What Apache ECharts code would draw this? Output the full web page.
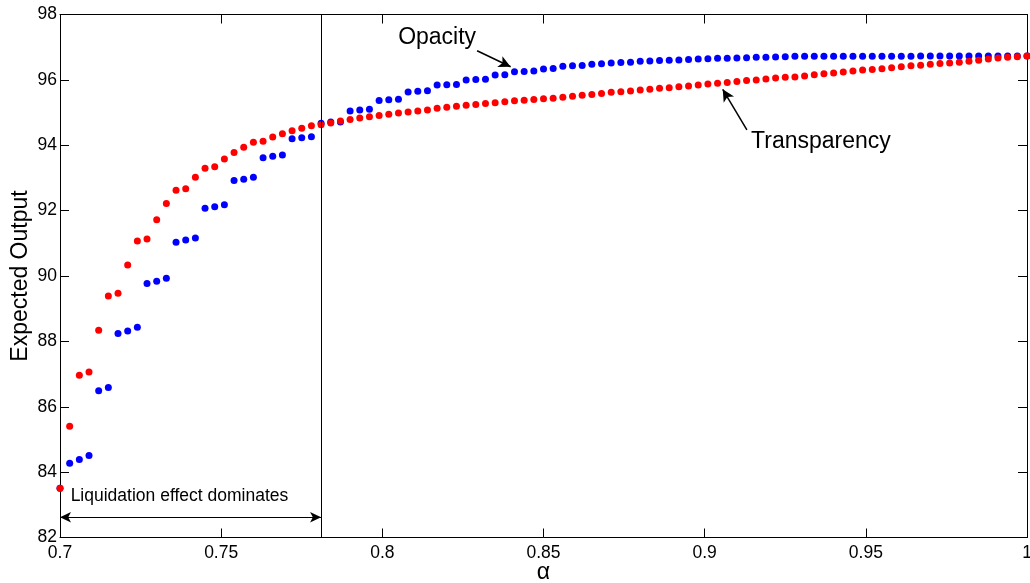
<!DOCTYPE html>
<html>
<head>
<meta charset="utf-8">
<script src="https://cdn.jsdelivr.net/npm/echarts@6/dist/echarts.min.js"></script>
<style>
  html, body { margin: 0; padding: 0; background: #fff; }
  #chart { width: 1030px; height: 583px; }
</style>
</head>
<body>
<div id="chart"></div>
<script>
// alpha grid (x values)
const alpha = [
  0.700, 0.703, 0.706, 0.709, 0.712, 0.715, 0.718, 0.721, 0.724, 0.727,
  0.730, 0.733, 0.736, 0.739, 0.742, 0.745, 0.748, 0.751, 0.754, 0.757,
  0.760, 0.763, 0.766, 0.769, 0.772, 0.775, 0.778, 0.781, 0.784, 0.787,
  0.790, 0.793, 0.796, 0.799, 0.802, 0.805, 0.808, 0.811, 0.814, 0.817,
  0.820, 0.823, 0.826, 0.829, 0.832, 0.835, 0.838, 0.841, 0.844, 0.847,
  0.850, 0.853, 0.856, 0.859, 0.862, 0.865, 0.868, 0.871, 0.874, 0.877,
  0.880, 0.883, 0.886, 0.889, 0.892, 0.895, 0.898, 0.901, 0.904, 0.907,
  0.910, 0.913, 0.916, 0.919, 0.922, 0.925, 0.928, 0.931, 0.934, 0.937,
  0.940, 0.943, 0.946, 0.949, 0.952, 0.955, 0.958, 0.961, 0.964, 0.967,
  0.970, 0.973, 0.976, 0.979, 0.982, 0.985, 0.988, 0.991, 0.994, 0.997,
  1.000
];

// Opacity (blue)
const opacity = [
  83.51, 84.27, 84.39, 84.51, 86.49, 86.59, 88.24, 88.32, 88.43, 89.77,
  89.84, 89.93, 91.03, 91.10, 91.16, 92.07, 92.12, 92.18, 92.92, 92.96,
  93.02, 93.62, 93.66, 93.70, 94.20, 94.23, 94.26, 94.67, 94.71, 94.71,
  95.05, 95.08, 95.10, 95.37, 95.39, 95.41, 95.63, 95.65, 95.67, 95.84,
  95.85, 95.86, 96.00, 96.01, 96.02, 96.15, 96.16, 96.25, 96.26, 96.27,
  96.33, 96.35, 96.42, 96.43, 96.44, 96.48, 96.49, 96.52, 96.53, 96.54,
  96.57, 96.58, 96.59, 96.60, 96.61, 96.62, 96.64, 96.65, 96.66, 96.66,
  96.67, 96.68, 96.69, 96.69, 96.70, 96.71, 96.72, 96.72, 96.72, 96.72,
  96.72, 96.72, 96.72, 96.72, 96.72, 96.72, 96.72, 96.72, 96.72, 96.73,
  96.73, 96.73, 96.73, 96.73, 96.73, 96.73, 96.73, 96.73, 96.73, 96.73,
  96.73
];

// Transparency (red)
const transparency = [
  83.51, 85.40, 86.96, 87.06, 88.34, 89.39, 89.47, 90.34, 91.07, 91.13,
  91.72, 92.22, 92.62, 92.67, 93.02, 93.30, 93.34, 93.58, 93.78, 93.94,
  94.09, 94.12, 94.25, 94.35, 94.44, 94.52, 94.60, 94.63, 94.68, 94.74,
  94.79, 94.83, 94.87, 94.91, 94.95, 94.99, 95.02, 95.05, 95.08, 95.13,
  95.16, 95.19, 95.22, 95.25, 95.28, 95.30, 95.33, 95.36, 95.38, 95.40,
  95.42, 95.44, 95.47, 95.50, 95.53, 95.55, 95.58, 95.62, 95.64, 95.66,
  95.69, 95.71, 95.74, 95.76, 95.79, 95.81, 95.84, 95.87, 95.90, 95.92,
  95.95, 95.98, 96.00, 96.03, 96.06, 96.08, 96.09, 96.12, 96.16, 96.19,
  96.21, 96.24, 96.27, 96.30, 96.32, 96.34, 96.37, 96.40, 96.43, 96.45,
  96.48, 96.50, 96.52, 96.54, 96.57, 96.60, 96.64, 96.67, 96.69, 96.71,
  96.73
];

const xTicks = { min: 0.7, max: 1, interval: 0.05 };
const yTicks = { min: 82, max: 98, interval: 2 };
const liquidationBound = 0.781;

const font = "'Liberation Sans', Arial, sans-serif";

function pairs(ys) {
  return alpha.map((x, i) => [x, ys[i]]);
}

const chart = echarts.init(document.getElementById("chart"));

const axisCommon = {
  type: "value",
  axisLine: { show: true, onZero: false, lineStyle: { color: "#000", width: 1 } },
  axisTick: { show: true, inside: true, length: 9, lineStyle: { color: "#000" } },
  splitLine: { show: false },
};

const option = {
  animation: false,
  backgroundColor: "#fff",
  grid: { left: 60, right: 3, top: 14.5, bottom: 45.5, containLabel: false, outerBoundsMode: "none" },
  xAxis: [
    {
      ...axisCommon,
      ...xTicks,
      position: "bottom",
      name: "α",
      nameLocation: "middle",
      nameGap: 24,
      nameMoveOverlap: false,
      nameTextStyle: { fontFamily: font, fontSize: 23, color: "#000" },
      axisLabel: { fontFamily: font, fontSize: 17.5, color: "#000", margin: 7,
        showMinLabel: true, showMaxLabel: true },
    },
    {
      ...axisCommon,
      ...xTicks,
      position: "top",
      axisLabel: { show: false },
    },
  ],
  yAxis: [
    {
      ...axisCommon,
      ...yTicks,
      position: "left",
      name: "Expected Output",
      nameLocation: "middle",
      nameGap: 28,
      nameMoveOverlap: false,
      nameTextStyle: { fontFamily: font, fontSize: 23, color: "#000" },
      axisLabel: { fontFamily: font, fontSize: 17.5, color: "#000", margin: 3,
        showMinLabel: true, showMaxLabel: true },
    },
    {
      ...axisCommon,
      ...yTicks,
      position: "right",
      axisLabel: { show: false },
    },
  ],
  series: [
    {
      name: "Opacity",
      type: "scatter",
      symbolSize: 7,
      itemStyle: { color: "#0000ff", opacity: 1 },
      data: pairs(opacity),
      markLine: {
        silent: true,
        animation: false,
        symbol: ["none", "arrow"],
        symbolSize: [9, 12],
        lineStyle: { color: "#000", width: 1.5, type: "solid" },
        label: { show: false },
        data: [
          [{ coord: [0.8294, 96.89] }, { coord: [0.8398, 96.40] }],
        ],
      },
      markPoint: {
        silent: true,
        symbol: "circle",
        symbolSize: 0,
        label: { show: true, position: "right", distance: 0, fontFamily: font,
          fontSize: 23, color: "#000", formatter: "Opacity" },
        data: [{ coord: [0.8049, 97.28] }],
      },
    },
    {
      name: "Transparency",
      type: "scatter",
      symbolSize: 7,
      itemStyle: { color: "#ff0000", opacity: 1 },
      data: pairs(transparency),
      markLine: {
        silent: true,
        animation: false,
        lineStyle: { color: "#000", width: 1, type: "solid" },
        label: { show: false },
        data: [
          [{ coord: [liquidationBound, yTicks.min], symbol: "none" },
           { coord: [liquidationBound, yTicks.max], symbol: "none" }],
          [{ coord: [0.7, 82.62], symbol: "arrow", symbolSize: [8, 11] },
           { coord: [liquidationBound, 82.62], symbol: "arrow", symbolSize: [8, 11] }],
          [{ coord: [0.9131, 94.47], symbol: "none", lineStyle: { width: 1.5 } },
           { coord: [0.9056, 95.71], symbol: "arrow", symbolSize: [9, 12] }],
        ],
      },
      markPoint: {
        silent: true,
        symbol: "circle",
        symbolSize: 0,
        label: { show: true, position: "right", distance: 0, fontFamily: font,
          color: "#000" },
        data: [
          { coord: [0.9144, 94.10], label: { fontSize: 23, formatter: "Transparency" } },
          { coord: [0.7033, 83.27], label: { fontSize: 17.5, formatter: "Liquidation effect dominates" } },
        ],
      },
    },
  ],
};

chart.setOption(option);
</script>
</body>
</html>
